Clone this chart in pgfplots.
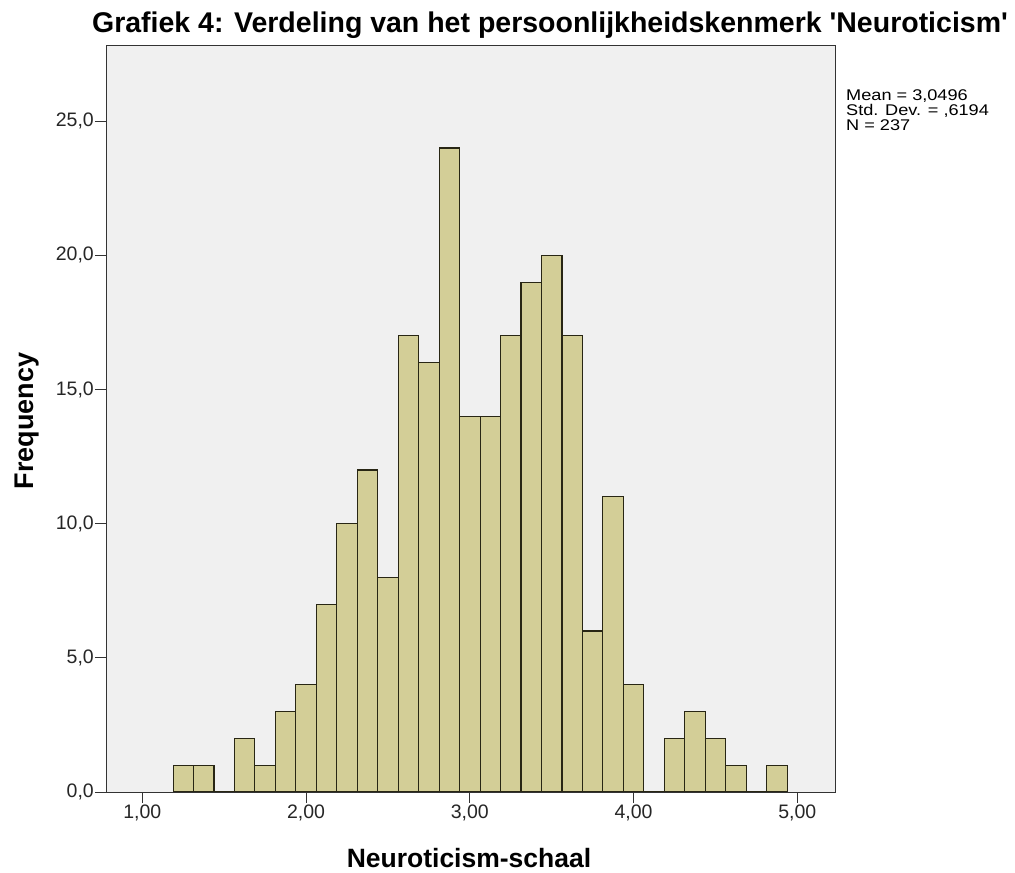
\documentclass[border=0pt]{standalone}
\usepackage{pgfplots}
\pgfplotsset{compat=1.18}
\usepackage{fontspec}
\setmainfont{Liberation Sans}[Ligatures=TeXOff]
\definecolor{bg}{RGB}{240,240,240}
\definecolor{barfill}{RGB}{211,206,151}
\definecolor{baredge}{RGB}{40,38,20}
\begin{document}
\begin{tikzpicture}[x=1bp,y=1bp]
\useasboundingbox (0,0) rectangle (1015,873);
\begin{axis}[
  at={(106bp,81bp)}, anchor=south west,
  width=729bp, height=747bp, scale only axis,
  xmin=0.778, xmax=5.23, ymin=0, ymax=27.84,
  axis background/.style={fill=bg},
  axis line style={draw=black!80, line width=0.8pt},
  axis x line*=bottom, axis y line*=left,
  xtick={1,2,3,4,5},
  xticklabels={1{,}00,2{,}00,3{,}00,4{,}00,5{,}00},
  ytick={0,5,10,15,20,25},
  yticklabels={0{,}0,5{,}0,10{,}0,15{,}0,20{,}0,25{,}0},
  tick align=outside, tick pos=left,
  major tick length=11bp,
  tick style={black!80, line width=0.9pt},
  ticklabel style={font=\fontsize{19.5bp}{22bp}\selectfont, text=black!85},
  yticklabel style={inner xsep=1bp},
  xticklabel style={inner ysep=2bp},
  /pgf/number format/assume math mode=true,
  clip=false,
]
\addplot[ybar interval, fill=barfill, draw=baredge, line width=1.1pt] coordinates {
(1.1875,1) (1.3125,1) (1.4375,0) (1.5625,2) (1.6875,1) (1.8125,3)
(1.9375,4) (2.0625,7) (2.1875,10) (2.3125,12) (2.4375,8) (2.5625,17)
(2.6875,16) (2.8125,24) (2.9375,14) (3.0625,14) (3.1875,17) (3.3125,19)
(3.4375,20) (3.5625,17) (3.6875,6) (3.8125,11) (3.9375,4) (4.0625,0)
(4.1875,2) (4.3125,3) (4.4375,2) (4.5625,1) (4.6875,0) (4.8125,1)
(4.9375,1)
};
\end{axis}
\draw[black!80, line width=0.8pt] (106,81) rectangle (835,828);
\node[anchor=base, font=\bfseries\fontsize{28.5bp}{32bp}\selectfont, inner sep=0pt] at (550,840) {Grafiek 4: Verdeling van het persoonlijkheidskenmerk 'Neuroticism'};
\node[rotate=90, anchor=base, font=\bfseries\fontsize{27bp}{30bp}\selectfont, inner sep=0pt] at (33,452) {Frequency};
\node[anchor=base, font=\bfseries\fontsize{26.5bp}{30bp}\selectfont, inner sep=0pt] at (469,5) {Neuroticism-schaal};
\begin{scope}[every node/.style={anchor=base west, inner sep=0pt, xscale=1.17, font=\fontsize{15.5bp}{17bp}\selectfont}]
\node at (846,772.5) {Mean = 3,0496};
\node at (846,757.5) {Std. Dev. = ,6194};
\node at (846,742.5) {N = 237};
\end{scope}
\end{tikzpicture}
\end{document}
